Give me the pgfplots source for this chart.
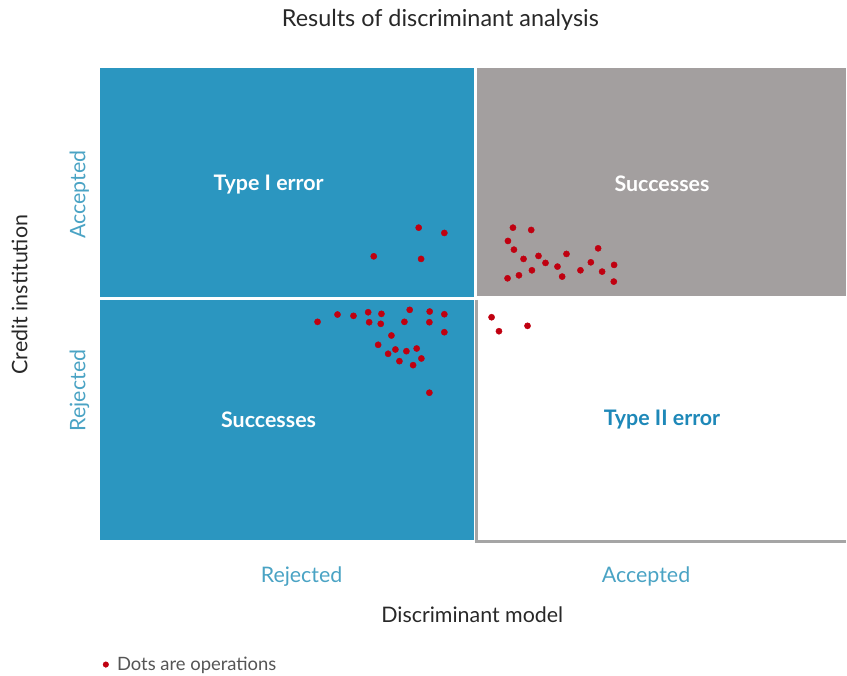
\documentclass[border=0pt]{standalone}
\usepackage{pgfplots}
\pgfplotsset{compat=1.18}
\usepackage{fontspec}
\setmainfont{Lato}
\definecolor{qblue}{RGB}{43,150,192}
\definecolor{qgray}{RGB}{163,159,159}
\definecolor{bgray}{RGB}{165,165,165}
\definecolor{dotred}{RGB}{192,0,16}
\definecolor{lblue}{RGB}{74,163,196}
\definecolor{dblue}{RGB}{30,136,184}
\definecolor{textgray}{RGB}{85,85,85}
\definecolor{titlegray}{RGB}{40,40,40}
\begin{document}
\begin{tikzpicture}
\begin{axis}[
  scale only axis, width=747bp, height=474bp,
  xmin=100, xmax=847, ymin=68, ymax=542, y dir=reverse,
  hide axis, clip=false,
]
\path (axis cs:0,0) rectangle (axis cs:847,676);
\fill[qblue] (axis cs:100,68) rectangle (axis cs:474.5,297);
\fill[qgray] (axis cs:477.5,68) rectangle (axis cs:847,296.5);
\fill[qblue] (axis cs:100,300) rectangle (axis cs:474.5,541);
\draw[bgray, line width=2.5bp] (axis cs:477,300) -- (axis cs:477,542.5) -- (axis cs:847,542.5);

\addplot[only marks, mark=*, mark size=3.1bp, color=dotred, mark options={draw=dotred, fill=dotred}] coordinates {
(419.3,228) (445,233.3) (374.3,256.7) (421.7,259.3)
(318,322.3) (338,315) (354,316.3) (368.7,312.7) (382,314.3) (369.7,322.7)
(381.3,324.3) (410.3,310.3) (430.3,312) (445,314.7) (405,322.3) (430,322.7)
(445,332.7) (392,336) (378.7,345.3) (388.7,354.3) (396,350) (407,351.7)
(417.3,349) (422,359) (400,361.7) (413.7,365.7) (430,393.3)
(513.7,228) (532,230.3) (508.7,241.3) (514.7,250) (524.3,259.3) (539.3,256.3)
(546.3,263.3) (567.3,254.3) (599,248.7) (558.3,267) (591.7,262.7) (615,265.3)
(508.3,278.7) (519.7,275.7) (532.7,270.7) (563,277) (581.3,270.7) (603,272)
(614.7,282)
(492.3,317.7) (499.7,331.7) (528.3,326.3)
};
% legend marker
\addplot[only marks, mark=*, mark size=2.8bp, color=dotred, mark options={draw=dotred, fill=dotred}] coordinates {(106,665.5)};
\node[anchor=west, font=\fontsize{18.5}{20}\selectfont, text=textgray, inner sep=0pt] at (axis cs:117,666.5) {Dots are operations};

\node[font=\fontsize{23.5}{26}\selectfont, text=titlegray] at (axis cs:441,20) {Results of discriminant analysis};
\node[font=\fontsize{21.5}{24}\selectfont, text=titlegray, rotate=90] at (axis cs:19.5,295) {Credit institution};
\node[font=\fontsize{21.5}{24}\selectfont, text=titlegray] at (axis cs:473,616) {Discriminant model};
\node[font=\fontsize{21.5}{24}\selectfont, text=lblue, rotate=90] at (axis cs:79.5,195) {Accepted};
\node[font=\fontsize{21.5}{24}\selectfont, text=lblue, rotate=90] at (axis cs:79.5,391) {Rejected};
\node[font=\fontsize{21.5}{24}\selectfont, text=lblue] at (axis cs:302,577.5) {Rejected};
\node[font=\fontsize{21.5}{24}\selectfont, text=lblue] at (axis cs:647,577.5) {Accepted};
\node[font=\fontsize{21.5}{24}\selectfont\bfseries, text=white] at (axis cs:269,184.5) {Type I error};
\node[font=\fontsize{21.5}{24}\selectfont\bfseries, text=white] at (axis cs:663,184.5) {Successes};
\node[font=\fontsize{21.5}{24}\selectfont\bfseries, text=white] at (axis cs:269,420.5) {Successes};
\node[font=\fontsize{21.5}{24}\selectfont\bfseries, text=dblue] at (axis cs:663,420.5) {Type II error};
\end{axis}
\end{tikzpicture}
\end{document}
